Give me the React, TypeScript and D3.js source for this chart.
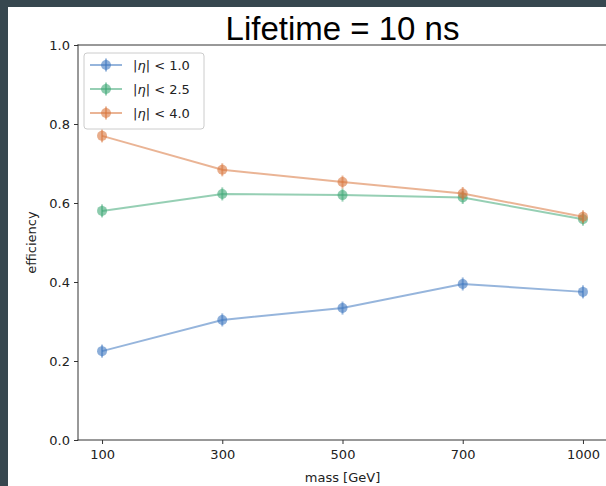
import * as d3 from "d3";
import React, { useRef, useEffect } from "react";

const W = 606;
const H = 486;

const masses = ["100", "300", "500", "700", "1000"];
const cuts = ["1.0", "2.5", "4.0"];
const colors = ["#3f78c0", "#3fa876", "#d9773e"];
const eta10 = [0.225, 0.304, 0.334, 0.395, 0.375];
const eta25 = [0.58, 0.623, 0.62, 0.614, 0.559];
const eta40 = [0.77, 0.684, 0.653, 0.624, 0.565];
const yTicks = [0.0, 0.2, 0.4, 0.6, 0.8, 1.0];

const plot = { left: 78, right: 607, top: 45, bottom: 440 };

function App() {
  const ref = useRef<SVGSVGElement>(null);

  useEffect(() => {
    const svg = d3.select(ref.current);
    svg.selectAll("*").remove();

    // dark frame from the screenshot
    svg.append("rect").attr("width", W).attr("height", H).attr("fill", "#37474f");
    svg.append("rect").attr("x", 8).attr("y", 7).attr("width", W - 8).attr("height", H - 7).attr("fill", "#fff");

    const x = d3.scaleLinear().domain([-0.2, 4.2]).range([plot.left, plot.right]);
    const y = d3.scaleLinear().domain([0, 1]).range([plot.bottom, plot.top]);

    const font = "'DejaVu Sans', sans-serif";

    // axes
    const xAxis = svg
      .append("g")
      .attr("transform", `translate(0,${plot.bottom})`)
      .call(
        d3
          .axisBottom(x)
          .tickValues(masses.map((_, i) => i))
          .tickFormat((d) => masses[d as number])
          .tickSize(4)
          .tickPadding(6)
      );
    const yAxis = svg
      .append("g")
      .attr("transform", `translate(${plot.left},0)`)
      .call(d3.axisLeft(y).tickValues(yTicks).tickFormat(d3.format(".1f")).tickSize(4).tickPadding(4));
    for (const ax of [xAxis, yAxis]) {
      ax.select(".domain").remove();
      ax.selectAll("line").attr("stroke", "#333");
      ax.selectAll("text").attr("font-family", font).attr("font-size", 13).attr("fill", "#222");
    }

    // spines (right one falls outside the window)
    const spines = [
      [plot.left, plot.top, plot.left, plot.bottom],
      [plot.left, plot.top, plot.right, plot.top],
      [plot.left, plot.bottom, plot.right, plot.bottom],
    ];
    spines.forEach(([x1, y1, x2, y2]) =>
      svg
        .append("line")
        .attr("x1", x1)
        .attr("y1", y1)
        .attr("x2", x2)
        .attr("y2", y2)
        .attr("stroke", "#333")
        .attr("stroke-width", 1)
        .attr("stroke-linecap", "square")
    );

    const series = [eta10, eta25, eta40];
    const line = d3
      .line<number>()
      .x((_, i) => x(i))
      .y((d) => y(d));

    series.forEach((vals, s) => {
      const g = svg.append("g");
      g.append("path")
        .attr("d", line(vals))
        .attr("fill", "none")
        .attr("stroke", colors[s])
        .attr("stroke-opacity", 0.55)
        .attr("stroke-width", 2);
      const pts = g.selectAll("g.pt").data(vals).join("g").attr("class", "pt");
      pts
        .append("line")
        .attr("x1", (_, i) => x(i))
        .attr("x2", (_, i) => x(i))
        .attr("y1", (d) => y(d) - 6.5)
        .attr("y2", (d) => y(d) + 6.5)
        .attr("stroke", colors[s])
        .attr("stroke-opacity", 0.55)
        .attr("stroke-width", 2);
      pts
        .append("circle")
        .attr("cx", (_, i) => x(i))
        .attr("cy", (d) => y(d))
        .attr("r", 5)
        .attr("fill", colors[s])
        .attr("fill-opacity", 0.6);
    });

    // legend
    const lg = svg.append("g").attr("transform", "translate(84,53)");
    lg.append("rect")
      .attr("width", 120)
      .attr("height", 76)
      .attr("rx", 3)
      .attr("fill", "#fff")
      .attr("fill-opacity", 0.8)
      .attr("stroke", "#ccc");
    cuts.forEach((cut, i) => {
      const cy = 12 + i * 24;
      lg.append("line")
        .attr("x1", 6)
        .attr("x2", 38)
        .attr("y1", cy)
        .attr("y2", cy)
        .attr("stroke", colors[i])
        .attr("stroke-opacity", 0.55)
        .attr("stroke-width", 2);
      lg.append("line")
        .attr("x1", 22)
        .attr("x2", 22)
        .attr("y1", cy - 6.5)
        .attr("y2", cy + 6.5)
        .attr("stroke", colors[i])
        .attr("stroke-opacity", 0.55)
        .attr("stroke-width", 2);
      lg.append("circle").attr("cx", 22).attr("cy", cy).attr("r", 5).attr("fill", colors[i]).attr("fill-opacity", 0.6);
      const t = lg
        .append("text")
        .attr("x", 49)
        .attr("y", cy)
        .attr("dy", "0.35em")
        .attr("font-family", font)
        .attr("font-size", 13)
        .attr("fill", "#222");
      t.append("tspan").text("|");
      t.append("tspan").attr("font-style", "italic").text("η");
      t.append("tspan").text(`| < ${cut}`);
    });

    // title and axis labels
    svg
      .append("text")
      .attr("x", (plot.left + plot.right) / 2)
      .attr("y", 40)
      .attr("text-anchor", "middle")
      .attr("font-family", "'Liberation Sans', Arial, sans-serif")
      .attr("font-size", 33)
      .attr("fill", "#000")
      .text("Lifetime = 10 ns");
    svg
      .append("text")
      .attr("x", (plot.left + plot.right) / 2)
      .attr("y", 482)
      .attr("text-anchor", "middle")
      .attr("font-family", font)
      .attr("font-size", 13)
      .attr("fill", "#222")
      .text("mass [GeV]");
    svg
      .append("text")
      .attr("transform", `translate(36,${(plot.top + plot.bottom) / 2}) rotate(-90)`)
      .attr("text-anchor", "middle")
      .attr("font-family", font)
      .attr("font-size", 13)
      .attr("fill", "#222")
      .text("efficiency");
  }, []);

  return (
    <div style={{ position: "absolute", left: 0, top: 0 }}>
      <svg ref={ref} width={W} height={H} style={{ display: "block" }}></svg>
    </div>
  );
}

export default App;
